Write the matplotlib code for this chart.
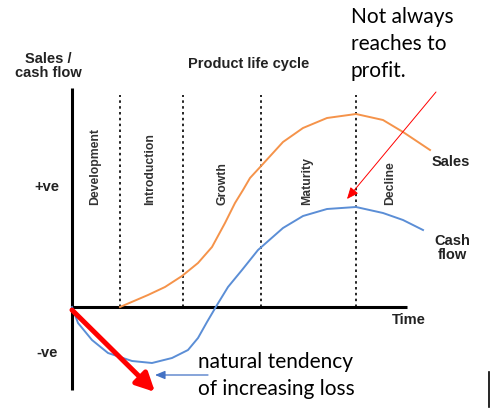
import matplotlib.pyplot as plt

# stage boundaries (time units from origin) and stage names
stage_edges = [48, 111, 189, 284]
stage_names = ['Development', 'Introduction', 'Growth', 'Maturity', 'Decline']
stage_label_t = [23, 78, 151, 235, 318]

# sales curve
sales_t = [48, 76, 93, 110, 126, 140, 153, 163, 171, 178, 190, 211, 231, 255, 284, 311, 331, 358]
sales_v = [0, 12, 20, 31, 44, 60, 84, 104, 117, 129, 142, 165, 179, 189, 193, 187, 175, 157]

# cash flow curve
cash_t = [0, 6, 20, 36, 60, 80, 100, 116, 126, 135, 145, 156, 170, 186, 211, 231, 255, 284, 311, 331, 351]
cash_v = [0, -16, -33, -46, -54, -56, -51, -43, -31, -15, 2, 20, 37, 57, 79, 91, 98, 100, 94, 87, 77]

note_top = ['Not always', 'reaches to', 'profit.']
note_bottom = ['natural tendency', 'of increasing loss']

fig = plt.figure(figsize=(4.98, 4.18), dpi=100)
ax = fig.add_axes([0, 0, 1, 1])
ax.set_xlim(-72, 426)
ax.set_ylim(-111, 307)
ax.axis('off')

lab = dict(family='Liberation Sans', fontsize=10.5, fontweight='bold', color='#222222')

# axes of the diagram
ax.plot([0, 0], [-83, 219], color='black', lw=2.2, solid_capstyle='butt')
ax.plot([0, 335], [0, 0], color='black', lw=2.2, solid_capstyle='butt')

for t in stage_edges:
    ax.plot([t, t], [0, 212], color='black', lw=1.2, ls=(0, (1.5, 2)))

for name, t in zip(stage_names, stage_label_t):
    ax.text(t, 102, name, rotation=90, ha='center', va='bottom',
            family='Liberation Sans', fontsize=8.8, fontweight='bold', color='#333333')

ax.plot(sales_t, sales_v, color='#F5934A', lw=1.4)
ax.plot(cash_t, cash_v, color='#5B8ED6', lw=1.4)

ax.text(-24, 241, 'Sales /\ncash flow', ha='center', va='center', linespacing=1.05, **lab)
ax.text(177, 243, 'Product life cycle', ha='center', va='center', **lab)
ax.text(-25, 120, '+ve', ha='center', va='center', **lab)
ax.text(-25, -46, '-ve', ha='center', va='center', **lab)
ax.text(360, 145, 'Sales', ha='left', va='center', **lab)
ax.text(380, 59, 'Cash\nflow', ha='center', va='center', linespacing=1.05, **lab)
ax.text(337, -13, 'Time', ha='center', va='center', **lab)

note = dict(family='Lato', fontsize=15, color='black')
for i, line in enumerate(note_top):
    ax.text(279, 284 - 27 * i, line, ha='left', va='baseline', **note)
for i, line in enumerate(note_bottom):
    ax.text(126, -61 - 27 * i, line, ha='left', va='baseline', **note)

# arrows
ax.annotate('', xy=(83, -85), xytext=(0, -3),
            arrowprops=dict(arrowstyle='-|>,head_length=1.1,head_width=0.55',
                            color='#FF0000', lw=3.6, shrinkA=0, shrinkB=0))
ax.annotate('', xy=(83, -68), xytext=(136, -68),
            arrowprops=dict(arrowstyle='-|>,head_length=0.6,head_width=0.25',
                            color='#4472C4', lw=0.9, shrinkA=0, shrinkB=0))
ax.annotate('', xy=(275, 108), xytext=(364, 215),
            arrowprops=dict(arrowstyle='-|>,head_length=0.7,head_width=0.3',
                            color='#FF0000', lw=0.7, shrinkA=0, shrinkB=0))

ax.plot([417, 417], [-65, -100], color='black', lw=1.2)

fig.savefig('out.png', dpi=100)
